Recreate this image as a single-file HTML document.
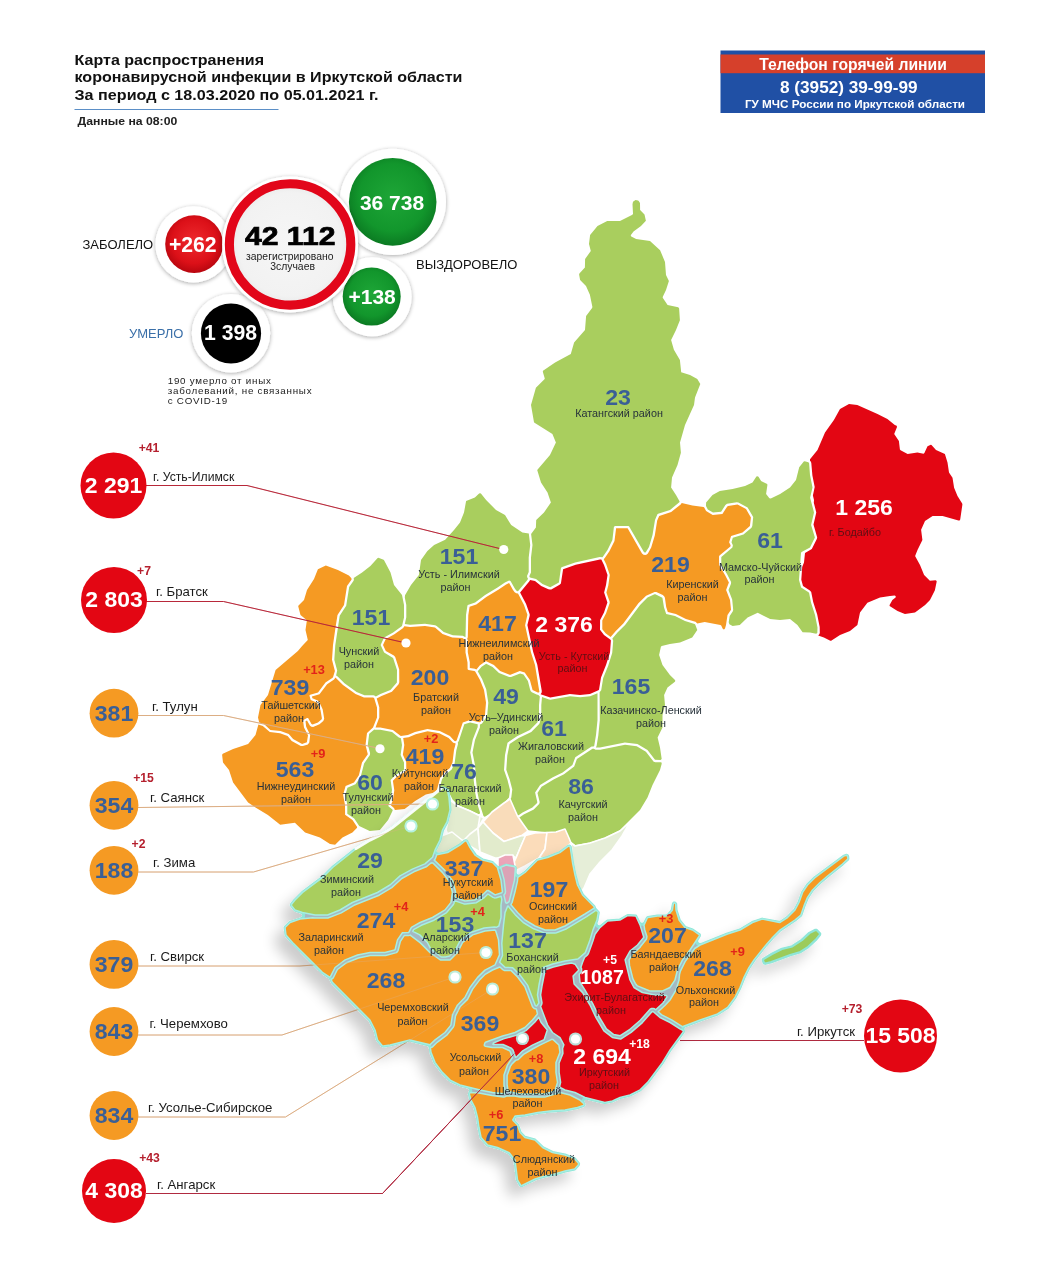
<!DOCTYPE html><html lang="ru"><head><meta charset="utf-8"><title>Карта распространения коронавирусной инфекции в Иркутской области</title>
<style>html,body{margin:0;padding:0;background:#fff}body{width:1050px;height:1280px;overflow:hidden;position:relative;font-family:"Liberation Sans", "DejaVu Sans", sans-serif}svg{position:absolute;left:0;top:0;display:block}svg text{font-family:"Liberation Sans", "DejaVu Sans", sans-serif}</style></head><body>
<svg width="1050" height="1280" viewBox="0 0 1050 1280">
<defs>
<filter id="sh" x="-20%" y="-20%" width="140%" height="140%"><feGaussianBlur in="SourceAlpha" stdDeviation="7"/><feOffset dx="-9" dy="10" result="b"/><feComponentTransfer><feFuncA type="linear" slope="0.2"/></feComponentTransfer><feMerge><feMergeNode/><feMergeNode in="SourceGraphic"/></feMerge></filter>
<filter id="csh" x="-30%" y="-30%" width="160%" height="160%"><feGaussianBlur in="SourceAlpha" stdDeviation="2"/><feOffset dx="0" dy="1"/><feComponentTransfer><feFuncA type="linear" slope="0.35"/></feComponentTransfer><feMerge><feMergeNode/><feMergeNode in="SourceGraphic"/></feMerge></filter>
<filter id="blur8"><feGaussianBlur stdDeviation="8"/></filter>
<filter id="blur1"><feGaussianBlur stdDeviation="0.7"/></filter>
<radialGradient id="gred" cx="50%" cy="45%" r="55%"><stop offset="0" stop-color="#ee2a2e"/><stop offset="0.7" stop-color="#dc1018"/><stop offset="1" stop-color="#b8060f"/></radialGradient>
<radialGradient id="ggreen" cx="50%" cy="45%" r="55%"><stop offset="0" stop-color="#1ea637"/><stop offset="0.7" stop-color="#12962c"/><stop offset="1" stop-color="#0b7a22"/></radialGradient>
<radialGradient id="ggray" cx="50%" cy="50%" r="50%"><stop offset="0" stop-color="#f6f6f6"/><stop offset="0.85" stop-color="#f2f2f2"/><stop offset="1" stop-color="#e9e9e9"/></radialGradient>
</defs>
<path fill="#a9ce5e" d="M529.5,575.8 529.4,576.8 530,577.5 536,579 542.5,584 550.2,587.3 558.9,582.4 560.9,568.3 561.5,567.3 575.1,562.5 599.7,557.1 602.5,557.2 607.5,550.1 612.4,540.1 613.9,527 614.9,526 628.2,526 629,526.3 643.9,552 644.7,552.6 645.6,552.5 649,546.9 652.5,534.9 655,520 657.4,514.3 658.1,513.8 670,510 679.6,502.1 679.5,501.2 676,495 671.1,487.5 672,477.6 677.5,465.1 680.9,452.7 680,442.4 685,425.1 694,405.1 695,397.5 700.3,383.9 697.3,378.9 690,375 681.2,372.3 679.9,360 673.9,349.8 671.1,340 676,329.9 679.9,320.2 679.1,308.3 678.2,307.3 667.6,304.9 662.7,297.7 662.8,296.8 666,289.9 668.9,281 666,274.9 665,261.9 660.1,250.2 650,241.1 636.1,239 631.3,236.6 630.8,236 630.9,234.9 633.5,231.6 641,226 645.9,220.8 644.5,214.5 640.1,210 640,203.1 638.7,200.9 638,200.4 635.5,200.1 633,201.8 632.5,204.2 633,213.8 632.4,214.8 620,221 607.2,221.1 597.5,226 590.1,234.9 589,244 590.8,251 585.1,259 584.9,267.6 579.4,273.5 579.1,274.4 580.1,280 586,286 589.9,294.8 592.4,307 592.1,308 586.1,316 585,329.9 574.1,342.5 570.8,354 555.1,362.5 543,370.7 542.8,371.8 544.7,378.2 544.7,379.1 535.9,387.8 531,404.9 534,422.2 534.5,422.8 552.4,433.9 555.9,442.6 550,455 537.2,470.1 541,482.4 547.5,492.5 550.9,502.4 544,512.5 536.2,519.9 535.9,527.5 531.1,534 532.5,545.1 531,557.6 531,572.4Z"/>
<path fill="#f59a23" d="M258,717.4 259.2,722.4 264,724.1 270.4,729.9 280.5,731 288.8,733.9 293.1,739.1 302.1,743.9 306.9,742.2 308,735.3 304,727.5 303.1,721 303.4,720 307,718 308.1,718.1 311.5,724.1 312.6,724.6 317.9,722.5 321.7,719.2 321.9,718.3 320.5,710.1 317.2,703 316.6,702.4 310.7,699.9 309.4,695.6 310.2,694.7 318,692.4 325.5,682.6 332.6,677.8 333.1,677.1 334.9,670.9 332,659.7 333,644.9 335.5,627.5 337.5,615 344,604.9 347,586.1 351.6,579.4 351.4,578.3 348.9,575.4 337.9,570 325.8,565.6 317.9,569.3 314,579 307,590.1 304,599.9 298.5,605.5 298.2,606.2 300.5,614.9 306.9,620.3 305.5,630 307.8,640.1 302.1,645.9 297.9,651.1 275.6,670 268,694.9 260.5,705.1Z"/>
<path fill="#f59a23" d="M222.8,753.7 222.1,754.8 223,762.4 229,770 233.1,782.6 248.1,802.5 255.5,807.5 267.9,814.9 280.2,824.8 294.9,822.7 305.1,832.5 319.9,837.5 330,844 335.1,844.8 342.5,837.6 352.4,832.5 357.1,827.7 357,826.7 352.5,820 345.1,814.8 345,805 343.1,794.8 345.6,786.1 354,782.5 358.9,775.2 362,762.5 367.8,754.2 365.5,745 367,732.9 373,727.4 377,717.4 377,707.6 374.2,698.3 373.2,697.5 364,697.5 355.5,694 343,685 335.4,677.6 334.1,679.5 327.1,684.2 319.5,694.2 311.9,696.6 312.4,698.3 317.7,700.4 319.2,701.8 322.7,709.4 324.2,718.8 323.3,720.9 319.5,724.3 313.1,726.9 311.4,726.8 310,725.8 307,720.6 305.5,721.3 306.2,726.8 310.2,734.9 309.3,742.4 307.9,744.4 302.9,746.1 300.8,745.9 291.7,740.9 287.6,736 280,733.3 269.8,732.1 262.8,726.1 258.4,724.6 255.5,735 248.1,743.9 233.1,749Z"/>
<path fill="#a9ce5e" d="M380.4,694.1 390.4,690 396.9,682.4 397,670.1 393.1,657.9 384.1,652.5 380.6,644.9 384.1,637.5 393.1,632.5 402,625.9 404,617.5 404,605.1 402,595.1 394,585 390.5,572.5 384.2,560.4 383.6,559.8 378.4,557.8 377.4,558.2 370.4,566.1 362.1,572.5 353.7,577.9 353.9,579.4 353.6,580.7 349.2,586.9 346.2,605.7 339.7,615.8 335.3,645.2 334.3,659.8 337.2,670.6 336.1,675.4 337.4,676.2 344.5,683.2 356.6,692 364.5,695.2 373.5,695.2 374.8,695.7 375.8,696.5Z"/>
<path fill="#f59a23" d="M380.3,727.5 392.9,730 400.8,735.9 407.9,735 415,732 427.4,729 439.8,731 449.9,736 454.5,740.9 455.5,741.2 456.6,740.4 462.8,722.5 470,720.1 479.2,722.3 480.4,721.9 485,714.7 486,702.5 484,690.1 480,680.1 475.2,671.4 474.4,670.9 468.5,670.1 467.6,669.3 467.5,662.5 465.5,652.5 465.5,640.7 465.1,639.8 462.3,638 452.3,637.4 442.5,634 435,627.5 425,626 410,627 404.3,626.3 403.2,628 394.4,634.3 385.8,639.1 383,645 385.8,650.9 393.9,655.4 395.2,656.9 399.2,669.6 399.3,682.3 398.6,684.2 391.9,691.8 381.5,696.1 376.7,698.6 379.3,707.2 379.3,717.4 375.5,727.5Z"/>
<path fill="#a9ce5e" d="M369.7,830.9 379.9,829.9 388.1,819.9 392.7,810.5 392.4,809.5 388.7,806.5 388.3,805.7 390.5,799.9 392,790.1 390.6,780 395.5,775 403.5,770.3 404,769.4 404,762.5 400.6,755 402,745.1 400.9,738.2 398.8,737.6 392,732.1 380.3,729.8 375.3,729.8 374.3,729.4 369.2,733.7 367.8,744.8 370.1,753 369.9,755.1 364.1,763.5 360.8,776.4 355.5,784.2 347.4,787.7 345.4,795.1 347.3,804.7 347.3,813.8 354.2,818.5 359.2,826.1Z"/>
<path fill="#f59a23" d="M404.6,809 415.1,800.9 425.8,794.6 435.7,792.2 436.5,791.6 440.1,778 445,772 449.9,768 452.5,762.4 454,750.1 455.7,743.5 453.2,742.8 448.6,737.9 439.3,733.2 427.6,731.3 415.7,734.2 408.6,737.2 403.2,738 404.3,745 402.9,754.7 406.2,761.9 406.3,769.8 405,772 396.9,776.8 392.9,780.8 394.3,790.3 392.8,800.4 390.8,805.3 394,808 394.9,809.9Z"/>
<path fill="#a9ce5e" d="M465.5,637.2 466,614.9 467.4,605.8 467.8,605 475.1,602.5 485.1,594.9 497.5,587.5 504.9,582.6 509.1,580.5 510.5,581 515.1,589.1 516.8,591.1 518,591.2 527.4,580.1 528,578.8 527.3,577.6 527,576.1 528.7,572 528.7,557.4 530.2,545 528.8,533.6 522.4,532.4 511.2,525.1 505,515.1 496,510 486.1,500.1 480.9,493.6 480,493.2 479.1,493.4 474.9,497.5 466.1,501.1 464,512.5 460,522.4 454,530 445.2,539.8 434.1,545 427.4,551.1 421,560.1 418.9,575.1 411,585.1 405,595.3 404.8,597.5 406.3,604.9 406.3,617.3 404.8,624 410.1,624.7 425,623.7 435.2,625.2 436.7,625.9 443.7,632 452.9,635.2 462.8,635.7Z"/>
<path fill="#f59a23" d="M479.9,665.2 485.3,661.4 486.3,661.2 493.9,665 500.1,671 509.6,674.8 510.5,674.8 519.8,671.1 524.7,672.4 529.9,679.9 532.6,689.9 537.8,692.6 538.8,692.6 539.4,691.9 535,665.1 531,652.4 525.1,625.3 527.4,614.8 524,605 518,593.5 516.2,593.3 514.7,592.3 513,590.1 509.1,583 506.1,584.5 498.7,589.5 486.3,596.9 476.3,604.4 469.6,606.7 468.3,615.3 467.8,637.2 467.2,638.8 467.8,640.6 467.8,652.3 469.8,662.2 469.8,668 474.9,668.7 476.4,669.4Z"/>
<path fill="#e30613" d="M540.6,694.2 550.2,697.5 569.9,694 580,695 589.9,694 598.4,690.3 599,689.7 601,677.5 606,665 610,652.5 610.9,640.6 610.5,639.7 604,634.9 600,629.7 600.1,619.9 604,612.5 607.4,602.6 604.1,592.5 606,584.9 607.5,574.9 604,565.1 601.3,559.6 600,559.4 575.7,564.7 563.1,569.2 560.9,583.4 559.6,584.8 551.3,589.4 549.8,589.6 548.4,589.3 541.2,585.9 535,581.1 530.1,579.9 529.2,581.5 520.1,592.5 526.1,604 529.7,614.3 529.7,615.8 527.4,625.1 533.2,651.9 537.3,664.7 541.8,691 541.6,692.7Z"/>
<path fill="#a9ce5e" d="M472.5,752.4 475,765.1 476,780 477.5,792.5 480,805.1 483.5,815.9 484.1,816.5 484.9,816.7 499.9,807.5 509,797.4 510,789.9 507.5,780.1 504,769.9 505,755.1 507.5,742.7 517.4,736.1 529.9,730 537.5,722.2 539,715 539,705.1 539.8,696.4 538.4,695 536.6,694.6 531.8,692.2 530.8,691.3 530.2,690.1 527.9,680.9 523.5,674.5 520.1,673.4 511.1,677 509.1,677.1 499,673 492.6,666.9 486.2,663.7 481.6,666.7 477.7,671.2 482.1,679.1 486.2,689.3 488.3,702.8 487.2,715.7 482.3,723.2 481.3,724.1 480,724.6 479.9,727.6 475,740Z"/>
<path fill="#a9ce5e" d="M438.4,792.9 457.5,805 469.9,810 478.2,814.1 479.2,814.1 479.9,813.5 480,812.5 477.8,805.5 475.2,792.8 473.7,780.2 472.7,765.4 470.2,752.6 472.8,739.4 477.7,727.1 477.7,724.3 470.1,722.4 464.3,724.3 458.8,741.1 457.8,742.6 458,743.9 456.3,750.5 454.6,763.5 451.7,769.4 446.6,773.7 442.1,779.1Z"/>
<path fill="#a9ce5e" d="M516.8,814.6 517.6,815.3 518.6,815.2 522.6,812.4 532.4,807.5 537.1,802.9 537.3,801.9 535.1,792.5 540.1,785 552.4,777.5 562.6,772.4 572.4,765.1 575.3,757.3 591.6,746.6 593.4,746.4 594.2,745.9 596,735 597.5,720.1 597.5,693.2 590.1,696.3 580.1,697.3 570.1,696.3 550.4,699.8 549,699.6 542,697.1 541.3,705.1 541.3,715.3 539.8,722.7 539.2,724 531.3,731.9 518.7,738 509.6,743.9 507.3,755.4 506.3,769.7 509.7,779.4 512.3,789.6 511.3,797.6 510,799.8Z"/>
<path fill="#a9ce5e" d="M599.9,747.5 624.9,742.5 637.4,744 647.5,750 655,759.8 660.6,760 661.7,759.1 660,747.6 657.6,737.6 662.5,727.4 662.5,715 665,705 664.1,694.9 667.5,687.6 674.9,681.8 675.3,680.9 675,680 669.9,674.9 662.5,664.9 659.1,655 660.9,646.7 661.7,645.9 669.9,644 680,642.5 692.2,637.6 697.3,629.9 695.2,624.6 694.6,623.9 685,621 675,616 666.2,613.9 664,607.5 662.4,597.7 655.4,594.2 654.5,594.3 647.5,597.5 640.1,604.9 625.1,624.9 617.5,632.5 612.4,638.4 613.2,640.7 612.2,653.1 608.2,665.7 603.2,678.1 601.2,690.2 599.6,692.2 599.8,720.2 598.3,735.4 596.6,745.9 595.8,747.5Z"/>
<path fill="#a9ce5e" d="M524.7,829.4 525.7,830.1 549.9,832.5 562.3,835 575.3,844.9 590,842.5 605.1,837.5 620,829.9 640,810 647.5,797.5 652.5,784.9 660,770 661.7,763.7 661.6,762.8 661.1,762.2 655.4,762.3 653.7,761.7 645.9,751.7 636.7,746.2 625.1,744.8 600.3,749.8 595.6,749.8 593.8,748.7 592.5,748.7 576.9,759 574.2,766.5 564,774.3 553.6,779.5 541.6,786.7 537.5,792.9 539.6,801.7 539.6,802.9 538.9,804.3 533.8,809.4 523.7,814.5 519.7,817.2 518.4,817.6Z"/>
<path fill="#f59a23" d="M704.7,622.1 720.4,624.9 721.2,625.5 722.9,629.1 724,629.4 725,628.6 726,624.9 727.5,615.1 731,609.8 730,599.9 726.1,590.1 728.9,582.4 725,575 719.1,565.1 719,556.4 719.5,555.6 730.4,546.4 730.6,545.3 729.1,542.2 731.1,536.1 742.5,532.5 749.9,526 750.9,517.5 746,509.1 737.5,504.6 728.1,505.9 727.3,506.4 722.4,513.9 712.7,515 706.1,511 704.2,507.5 703.6,507 692.4,505.5 681.7,502.9 680.7,504.4 671.2,512 659.2,515.9 657.2,520.6 654.8,535.4 651.2,547.6 647.9,553.6 646.8,554.5 645.4,555 643.5,554.7 642,553.4 627.6,528.3 616.1,528.3 614.5,541 609.4,551.2 604.8,558.1 603.7,559.2 606.2,564.3 609.8,575.1 608.3,585.4 606.4,592.4 609.6,601.4 609.7,603.1 606.1,613.3 602.3,620.6 602.3,629.2 605.6,633.3 610.6,636.9 615.8,630.9 623.3,623.4 638.4,603.3 646.1,595.7 654.6,591.9 656.3,592.1 662.8,595.1 664.3,596.4 664.9,597.7 666.2,607 667.8,612 675.9,613.9 685.9,618.9 695.5,621.8 697.3,623.5Z"/>
<path fill="#a9ce5e" d="M728.7,622.3 729.4,624.2 732.6,625.9 739.8,625 747.6,617.5 757.7,612.7 770.1,619 780,620 790,619.1 797.4,625 802.6,632.3 810,632.5 816.2,633.7 817.3,633 817.5,627.5 815,615.1 811,602.6 809.1,592.9 808.5,592.2 801.1,587.4 799,579.9 801,552.8 801.6,552.1 810,547.5 814.9,537.5 811.1,525.1 814,512.4 810.1,497.7 812.5,487.4 810,475.1 809.1,463.3 808.4,462.3 804.7,461.2 803.8,461.4 799.2,467.3 796,480 790,487.4 780.1,493.9 770.8,498.6 769.4,498.3 766.1,494 767.4,485 767.2,484.1 761.1,481 758.5,476.7 757.4,476.2 756.4,476.6 752.5,482.5 745,486 732.6,489 719.8,491.1 712.5,495 706.1,502.5 706,506 707.8,509.4 713,512.6 721.1,511.8 725.4,505.1 727,503.8 736.7,502.3 738.4,502.4 747.6,507.4 753.2,517.1 752.3,525.9 751.5,527.7 743.5,534.5 732.8,537.8 731.5,542.2 732.9,545.2 732.4,547.6 721.3,557.1 721.3,564.4 727,573.9 731.1,582.1 731,583.7 728.5,590 732.2,599.5 733.2,609.9 732.7,611.5 729.7,615.9Z"/>
<path fill="#e30613" d="M823.9,637.5 830.3,640.7 831.2,640.8 840,635 850,631 857.4,625 860,612.6 867.4,602.7 880,597.5 890,596 894.5,595.5 895.2,595.7 895.8,596.4 895.6,597.4 892.4,600.1 889.6,605 889.6,606.1 897.5,611 904.9,613.9 915,612.4 925.1,604.9 930,599.9 934.9,590.2 936.7,581.5 936.4,580.7 935.6,580.3 929.9,580.8 924.1,575.1 920,565.1 915.2,556.3 915.3,555.4 917.5,550.1 922.4,540.1 921.1,529.8 925,521 932.6,516 942.6,516 958.5,520.6 959.6,520.5 960.2,519.6 962.4,504.5 962.2,503.6 957.5,496 954.1,487.7 952.5,477.7 949,472.4 947.5,462.4 944.9,454 936,450 931.5,445.1 930.8,444.8 927.5,446.2 924.4,453.1 923.5,453.8 917.4,452.5 907.6,453.9 900.6,450.3 899.9,449.4 898.9,441 894.2,434 897,427.1 896.7,425.8 894.8,424.9 887.4,418.9 877.5,414 857.3,405 849,404.1 840,409.1 833.9,420.1 825,432.5 817.5,449.9 810,459.3 810,460.7 810.9,461.7 811.3,463 812.4,475.5 814.7,487 812.9,495.4 814,499.9 813.8,502.7 816.3,512.4 813.5,524.5 817.2,537.6 816.8,539 811.8,548.9 805,552.9 804,562.4 802.2,567.1 801.3,579.8 803,586 809.9,590.4 811.2,592 813.2,602 817.2,614.5 819.7,627 819.8,633 819.3,634.3 818.2,635.4Z"/>
<g filter="url(#blur1)" stroke="#fff" stroke-width="1.6" stroke-linejoin="round">
<polygon fill="#e6eed6" points="448,792 452,800 458,806 480,816 484,818 478,828 480,852 470,846 462,842 450,846 446,830 450,812"/>
<polygon fill="#e3ecd0" points="450,800 458,806 470,811 480,816 478,828 470,834 462,842 452,846 446,830 450,812"/>
<polygon fill="#e3ecd0" points="436,838 452,832 462,840 466,842 458,848 447,853 436,856"/>
<polygon fill="#f9dcba" points="483,822 492,812 504,803 510,799 517.5,816 523,824 528,831 522,835.5 504,841.5 493,833"/>
<polygon fill="#e2ebcc" points="478,828 483,822 493,833 504,841.5 522,835.5 525.5,836 521,846 516,858 513,856 498,858 495,858 480,852"/>
<polygon fill="#fbdcba" points="525.5,835.5 535,833 547,832.5 545,849 539,858 525,866 516,870.5 513,864.5 516,858 521,846"/>
<polygon fill="#fbdcba" points="547,832.5 556,832 565,829 569,838 571,843 560,852 547.5,857.5 539,858 545,849"/>
<polygon fill="#eba4b8" points="498,858 505,855 513,855 516,870.5 514,882 510,892 505,888 501,876.5 498,866"/>
<polygon fill="#e6eed8" points="571,843 575,846 590,843 605,838 620,831 630,822 622,836 612,850 600,862 590,874 584,888 580,893 577,884 575,872 572.5,860"/>
</g>
<polyline fill="none" stroke="#b8283a" stroke-width="1" points="146,485.5 247,485.5 503.5,549.5"/>
<polyline fill="none" stroke="#b8283a" stroke-width="1" points="146,601.5 223.5,601.5 406,643"/>
<polyline fill="none" stroke="#dcae84" stroke-width="1" points="138,715.5 223.5,715.5 380,748.5"/>
<polyline fill="none" stroke="#dcae84" stroke-width="1" points="138,807.5 432.5,804"/>
<polyline fill="none" stroke="#dcae84" stroke-width="1" points="138,872 253.5,872 411,826"/>
<polyline fill="none" stroke="#dcae84" stroke-width="1" points="138,966 300,966 486,952.5"/>
<polyline fill="none" stroke="#dcae84" stroke-width="1" points="138,1035 282,1035 455,977"/>
<polyline fill="none" stroke="#dcae84" stroke-width="1" points="138,1117 285.5,1117 492.5,989"/>
<polyline fill="none" stroke="#b02a40" stroke-width="1" points="146,1193.5 382.5,1193.5 515,1053"/>
<polyline fill="none" stroke="#b02a40" stroke-width="1" points="680,1040.5 864,1040.5"/>
<g filter="url(#sh)" stroke="#8fe6d8" stroke-linejoin="round">
<path fill="#a6b8c2" stroke-width="3" d="M285.1,927.9 286.1,935 292.5,942.5 322.4,972.4 329.8,977.4 332.6,982.6 369.8,1019.9 375,1030 377.5,1040 382.2,1045.6 383.1,1045.9 390,1045 409.8,1040.1 428.3,1044.7 429.5,1045.5 430.2,1046.7 431,1052.6 435,1062.5 442.6,1072.6 450.1,1080.1 459.9,1085 468.5,1087.1 469.9,1088.1 470.6,1089.3 470.8,1090.7 469.4,1094 471,1100.1 475.1,1107.9 477.5,1117.5 479,1127.5 481,1137.5 487.6,1145 497.5,1147.5 508.2,1152.2 509.5,1153.2 514.9,1160.1 517.5,1179.9 520.5,1185.1 521.6,1185.6 535.2,1178.9 545,1176 555,1174 565,1171 574.7,1169 578.4,1164.7 578.6,1163.8 574.7,1158.9 564.9,1155 552.4,1152.4 542.7,1147.6 534.9,1140 524.8,1137.2 520.2,1132.6 517.5,1125.1 513.9,1121.2 513.5,1118.9 514.5,1116.9 516.4,1115.9 525,1115 537.5,1112.5 550,1111 565,1110 577.5,1107.5 583.7,1105.3 584,1104.3 582.9,1102.2 583,1100.5 584.1,1098.8 585.9,1098 604.9,1102.5 612.3,1101 620,1097.5 630.1,1095 640,1090 647.5,1082.5 662.5,1062.5 670,1050 683.2,1032.1 683.4,1031.3 682.8,1028.5 683.9,1026.4 700,1020 717.4,1014 727.6,1007.4 735,997.4 740,987.5 744,977.5 748.9,967.7 754.1,959.9 766,944.9 772.5,937.5 779.8,930.2 795,920 800.9,915.1 804,906 807.4,897.8 812.5,890 820.1,882.4 827.5,876 842.5,864 847.6,859.4 847.9,858.6 847.7,856.4 847.3,855.6 846.6,855.3 843.9,856.1 814.9,877.6 807.6,884.9 802.6,892.4 799,902.5 794.9,910.1 787.5,917.5 780.9,921.9 778.9,922.3 762.2,919.1 752.4,922.5 740,930 727.5,934 701.4,944.5 699.4,944.6 697.4,943.4 696.6,941.2 697,939.6 699.4,935.8 699.4,934.7 692.5,930 685.1,927.4 679.4,920.5 676,910 675.7,903.8 674.7,903 673.9,903.1 673.4,903.7 672.2,910.2 667.8,915.4 666.2,916 657.4,916 648,917.4 647.2,918.1 644.8,923 643.2,924.2 641.1,924.3 639.4,923.2 635.8,916.1 627.8,915.5 619.8,920 607.6,921 600.5,926.7 598.8,926.8 597.3,926.1 596.2,924.8 595.9,923.1 597,919.9 598.3,912.5 594.9,908.8 594,906.5 582.7,895.1 577.7,885.3 575,875 572.5,862.6 570.3,847 569.4,846 568.4,846.2 559.6,852.7 547.5,857.5 537.5,860.1 525,872.5 520.2,875.7 518.9,876.1 517,875.7 515.4,874 515.1,872.6 515.4,867.9 514.7,866.9 506.1,865.1 500.4,867.6 498.3,867.6 497,867 492.4,862.5 482.7,860 475.6,855.4 470.1,847.6 466.7,841.3 465.9,840.7 464.9,840.9 459.8,845.1 447.7,852.4 438.9,854.2 436.6,853.6 435.2,851.8 435.2,849.8 440,840.1 442.6,829.9 447,822 450,810 449,797.5 447.6,790.4 446.9,789.7 442.5,787.7 392.5,827.5 380,835 370,840 357.4,847.6 332.5,867.5 322.5,877.5 302.5,892.5 295,900 291.6,904.3 291.3,905.1 295.1,910 301.7,912.3 302.8,913 303.7,914.8 303.4,917.1 301.6,918.7 290,922.5 285.4,927.1Z"/>
<path fill="#9ccb5a" stroke-width="2.4" d="M762.9,960.4 764,963.2 765.3,963.7 771.4,962.1 790.3,955.2 800.5,952.1 808.3,946.9 815.8,939.9 820,934.7 820.1,933.5 816.7,930 815.4,929.9 809.3,933 801.8,940 792.2,946.3 781.9,948.9 771.9,953.9 763.4,959 762.9,959.6Z"/>
</g>
<g stroke="#a6eee2" stroke-width="1.5" stroke-linejoin="round">
<path fill="#a9ce5e" d="M291.6,904.3 291.5,905.7 295,910 302.4,912.5 315,915 327.6,915 340,910 352.5,902.5 377.5,892.5 390,885 400.1,875.9 412.4,869.1 425,863.9 432.6,857.3 435.1,849.9 440,840 442.5,830 447,821.9 450,809.9 449,797.6 447.4,790.1 443.1,787.8 442,787.9 392.6,827.4 380.1,835 370,840 357.4,847.6 332.6,867.5 322.4,877.6 302.6,892.4 295,900Z"/>
<path fill="#f59a23" d="M285.3,927.2 285.1,928.1 286,935 292.5,942.5 322.4,972.4 328.9,976.7 329.8,976.9 330.6,976.3 335.1,967.5 345.2,959.9 357.6,955 370,952.5 385,952.5 394.7,950 395.2,949.3 397.5,939.9 402.4,932.8 408.8,932.4 411.4,927.3 420.1,922.5 432.5,917.5 445.1,909.9 451,902.4 452.4,892.3 449.9,882.3 442.4,872.4 433.1,863.1 432,862.8 430.3,863.5 426.2,866.8 413.8,871.8 401.8,878.5 391.7,887.6 379.1,895.2 353.9,905.3 341.2,912.9 327.9,918 315.1,918.1 312.8,917.7 300,919 290.1,922.5Z"/>
<path fill="#f59a23" d="M332.4,982.3 369.9,1020 375,1030 377.5,1039.9 382.3,1045.7 383.2,1045.9 390.1,1045 409.9,1040 430,1044.8 435.1,1039.9 445,1032.5 450.9,1025.1 452.5,1014.9 457.4,1005.2 464.9,997.5 470,987.5 477.4,977.6 485,970.1 495.1,964.8 499.5,954.9 498.5,939.9 495.7,930.8 494.9,930.1 485,931 472.7,934.9 462.6,942.5 457.5,952.4 450.3,959.7 449.5,960 440.4,960 430.1,952.6 420.1,942.6 410.2,935.1 408.5,935.6 404.2,935.6 400.4,941.3 398.1,950.3 397.4,951.7 396.3,952.6 385.6,955.5 370.3,955.6 358.4,958 346.5,962.7 337.4,969.5 333.2,977.9 331.1,979.7Z"/>
<path fill="#f59a23" d="M455,897 455.7,897.8 465,901 474.7,900 482.5,895 487.3,890.4 488.2,890.5 495.1,894.9 501.7,892.8 502.4,891.9 501,880 497.4,867.5 492.5,862.5 482.6,860 475.1,855.1 470,847.6 466.6,841.2 465.9,840.7 465,840.9 459.9,845.1 447.6,852.5 436.7,854.7 435.3,858.7 434.2,860.1 444.8,870.4 452.7,880.9 455.6,892.1Z"/>
<path fill="#dba3b6" d="M505.6,902.3 506.1,903 507,903.2 509.1,901.6 514.5,880.1 515.4,867.9 514.6,866.8 506.2,865.1 500.7,867.4 504.1,879.6 505.5,891.7 505.1,893.5 503.9,895Z"/>
<path fill="#a9ce5e" d="M419.8,934.9 427.4,942.5 430.6,948.7 440.5,956.5 441.3,956.9 445.5,956.9 449.5,956.1 455,950.7 460.2,940.5 470.7,932.5 484.2,928 494.4,927 496.3,927.3 498.9,926 501,917.5 501,905 501.8,899.6 501.1,896.2 496.3,897.8 494.5,897.9 493,897.4 487.9,894 484.3,897.5 476.4,902.7 465.6,904.1 463.9,903.9 454.4,900.6 454,903.2 453.4,904.5 446.6,912.6 434,920.2 421.3,925.3 413.5,929.7 412.8,931.4Z"/>
<path fill="#f59a23" d="M510.9,904.7 517.5,912.5 525,920 535,926 545.2,930 555,930 565,926 585,914 593.8,908.3 594.3,907.3 594,906.5 582.6,895 577.5,885 575,875 572.5,862.5 570.2,846.9 569.1,846 568.4,846.2 559.8,852.6 547.6,857.5 537.5,860 525,872.5 517.8,877.3 517.5,880.8 515,891.8 512.1,902.5Z"/>
<path fill="#a9ce5e" d="M499.6,962.3 505,967.4 512.7,967.7 520.1,975.1 527.5,985.1 535.2,1005.3 536,1006 536.9,1005.9 538.9,1002.9 537.5,994.8 539,985 542.5,967.8 552.6,964 564.9,961 577.9,959 585.4,952.6 590,940 593,929.9 597,920 598.3,912.3 596.2,910.2 586.6,916.6 566.6,928.7 556.4,932.8 554.9,933.1 545,933.1 533.7,928.8 523.3,922.5 515.2,914.6 508.1,906.1 507.6,906.2 505,912.6 503.5,925 501.8,943.2 502.5,955.5Z"/>
<path fill="#f59a23" d="M431,1052.4 435.1,1062.6 442.4,1072.4 450.2,1080.1 460,1085 480,1090 492.5,1092.5 503.7,1093.8 504.6,1093.6 505,1092.8 505,1090.1 504,1085 504,1075.1 507.5,1065.1 512.3,1057.7 510.2,1051.5 509.6,1050.8 502.5,1047.5 492.4,1047.5 485.2,1046.2 484.5,1045.7 484.3,1045 484.9,1043 485.5,1042.3 502.6,1036 515,1032.5 524.9,1027.5 532.5,1020 537.3,1014.3 537.4,1013.5 536.4,1009.1 534.2,1008.6 532.5,1006.8 524.8,986.5 517.6,977 511.2,970.6 504.2,970.4 502.8,969.6 499.9,967 492.5,970 484.7,974.7 479.8,979.6 472.6,989.1 467.5,999.4 460,1006.8 455.5,1015.9 454.1,1025.3 453.4,1027 447.1,1034.8 437.1,1042.3 432.2,1047.1 430.4,1047.9Z"/>
<path fill="#e30613" d="M515.5,1057.3 516.5,1057 522.7,1050.9 532.4,1045.1 544.1,1039.7 547.3,1030 541.1,1022.5 538.8,1017.2 534.7,1022.2 526.4,1030.3 516,1035.4 503.5,1038.9 493.4,1043 493,1044.4 503,1044.5 511.4,1048.3 513,1050.1Z"/>
<path fill="#f59a23" d="M519.9,1094 544.9,1094 554.4,1091.2 555,1090.7 557.5,1082.5 556,1072.5 556,1062.6 560,1052.3 558.9,1045 552.9,1039.4 551.8,1039.3 539.8,1045.2 532.5,1049 523.5,1054.4 518.3,1059.5 515.6,1060.4 511.7,1064.3 510.3,1066.4 507.1,1075.5 507.1,1084.7 508.1,1091.5Z"/>
<path fill="#f59a23" d="M470.5,1092.6 469.6,1093.1 469.4,1094.1 471,1100 475,1107.7 477.5,1117.4 479,1127.5 481.1,1137.5 487.6,1145 497.5,1147.5 509.2,1152.8 515,1160 517.5,1179.9 520.8,1185.4 521.9,1185.5 535.1,1179 544.9,1176 554.9,1174 564.9,1171 574.7,1169.1 578.5,1164.7 578.5,1163.3 574.8,1158.9 565,1155 552.5,1152.5 542.6,1147.5 535,1140 524.9,1137.4 520.1,1132.5 517.5,1125.1 513.1,1120.6 512.8,1119.8 514.7,1116.5 515.5,1116 525.1,1115 537.6,1112.5 550,1111 565.1,1110 577.4,1107.5 583.4,1105.5 584,1104.7 583.8,1103.8 579.9,1100 570,1095 560.1,1092.5 544.8,1097.1 520,1097.1 514.5,1096 506.5,1096 505.1,1096.7 503.6,1096.9 492,1095.6 479,1093Z"/>
<path fill="#e30613" d="M540.5,1006.3 547.6,1025.1 552.5,1032.5 560,1037.6 563.9,1044.8 562.6,1048.5 562.9,1053.4 559.1,1063.1 559.1,1072.3 560.6,1082.4 559.7,1086.1 560.1,1087.4 565,1090 575,1092.5 585,1097.5 604.8,1102.5 612.5,1101 620,1097.5 630,1095 640.1,1089.9 647.6,1082.4 662.5,1062.5 670.1,1049.9 683.4,1031.6 682.8,1030.4 679.9,1028.9 670.1,1022.5 660,1017.5 653.4,1011.8 652.5,1011.5 651.7,1011.9 642.4,1022.6 631.1,1032.4 621.4,1038.7 620.5,1038.9 612.4,1037.4 603.9,1030.9 596,1017.6 590,1005 582.6,992.6 574.1,984 573.1,976.1 578.4,970.6 578.7,969.7 575.1,964.2 571.9,963.1 565.6,964 553.4,967 545.2,969.8 542.1,985.5 540.6,994.9 542,1002.9 541.6,1004.5Z"/>
<path fill="#e30613" d="M580,982.2 584.9,989.9 592.7,1003.5 598.7,1016 606.4,1028.9 613.8,1034.6 620.3,1035.7 629.1,1030 640.3,1020.3 650.1,1009.2 651.6,1008.5 653,1008.4 654.5,1008.8 655.7,1009.7 663,1003 667,996.9 666.8,996 666,995.4 655,995 642.4,992.5 634,987.5 630,980 625.1,959.8 630,951 637.5,945 643.8,937.3 640,924.9 636.2,916.6 635.4,916 627.6,915.5 619.9,920 607.6,921 599.9,927.6 595,934.2 592.9,941 588.4,953.5 587.5,954.9 584.5,957.5 582.5,962.5 580.9,967.2 581.6,968.9 581.6,971 580.9,972.5 579.2,974.2Z"/>
<path fill="#f59a23" d="M629.1,959.8 629.5,965.4 632.9,978.9 635.3,983.4 637.4,985.9 649.2,990.7 650.8,991 662.6,990.9 670,987.5 674.9,980.2 677.5,970 682.4,960.1 690,950 699.3,936 699.5,935 692.5,930 685,927.5 679.2,920.2 676,910 675.7,903.9 675,903.1 674.1,903 673.3,903.9 672.4,910.1 667.5,915.9 657.5,916 648.1,917.4 647.3,917.9 644,925.1 644.7,929.7 646.9,936.5 646.5,939.1 641.3,945.4 639.9,947.5 632.6,954Z"/>
<path fill="#f59a23" d="M682.3,1026.7 700.1,1020 717.5,1014 727.6,1007.4 735,997.5 740,987.5 744,977.4 748.9,967.6 754,959.9 766,945 772.5,937.5 779.9,930.1 794.9,920 800.9,915.1 804,905.9 807.4,897.6 812.5,890 820,882.5 827.5,876 842.5,864 847.5,859.4 847.9,858.5 847.3,855.7 846.4,855.3 843.8,856.1 814.9,877.6 807.5,885 802.6,892.4 799,902.5 795,910 787.5,917.5 780.4,922.2 779.5,922.4 762.2,919.1 752.5,922.5 740,930 727.5,934 700.1,945 694.7,948.5 685.1,961.6 680.4,971.1 679.5,974.6 679,980 675.9,990.2 670,1000 665.1,1005.3 658.1,1011.7 661.7,1014.9 671.6,1019.8Z"/>
</g>
<polyline filter="url(#blur1)" fill="none" stroke="#fff" stroke-width="3.2" stroke-linecap="round" opacity="0.92" points="356,848.5 370,840 380,835 392.5,827.5 405,817.5 417.5,807.5 430,797.5 441,788.5"/>
<g opacity="0.35">
<polyline fill="none" stroke="#b8283a" stroke-width="1" points="146,485.5 247,485.5 503.5,549.5"/>
<polyline fill="none" stroke="#b8283a" stroke-width="1" points="146,601.5 223.5,601.5 406,643"/>
<polyline fill="none" stroke="#dcae84" stroke-width="1" points="138,715.5 223.5,715.5 380,748.5"/>
<polyline fill="none" stroke="#dcae84" stroke-width="1" points="138,807.5 432.5,804"/>
<polyline fill="none" stroke="#dcae84" stroke-width="1" points="138,872 253.5,872 411,826"/>
<polyline fill="none" stroke="#dcae84" stroke-width="1" points="138,966 300,966 486,952.5"/>
<polyline fill="none" stroke="#dcae84" stroke-width="1" points="138,1035 282,1035 455,977"/>
<polyline fill="none" stroke="#dcae84" stroke-width="1" points="138,1117 285.5,1117 492.5,989"/>
<polyline fill="none" stroke="#b02a40" stroke-width="1" points="146,1193.5 382.5,1193.5 515,1053"/>
<polyline fill="none" stroke="#b02a40" stroke-width="1" points="680,1040.5 864,1040.5"/>
</g>
<polyline fill="none" stroke="#b02a40" stroke-width="1" points="146,1193.5 382.5,1193.5 513.5,1054.5"/>
<g filter="url(#blur1)" fill="#b6f5ec" opacity="0.9">
<circle cx="432.5" cy="804" r="6.6"/>
<circle cx="411" cy="826" r="6.6"/>
<circle cx="486" cy="952.5" r="6.6"/>
<circle cx="455" cy="977" r="6.6"/>
<circle cx="492.5" cy="989" r="6.6"/>
<circle cx="522.5" cy="1038.5" r="6.6"/>
<circle cx="575.5" cy="1039" r="6.6"/>
</g>
<circle cx="503.75" cy="549.5" r="4.6" fill="#fff"/>
<circle cx="406" cy="643" r="4.6" fill="#fff"/>
<circle cx="380" cy="748.75" r="4.6" fill="#fff"/>
<circle cx="432.5" cy="804" r="4.6" fill="#fff"/>
<circle cx="411" cy="826" r="4.6" fill="#fff"/>
<circle cx="486" cy="952.5" r="4.6" fill="#fff"/>
<circle cx="455" cy="977" r="4.6" fill="#fff"/>
<circle cx="492.5" cy="989" r="4.6" fill="#fff"/>
<circle cx="522.5" cy="1038.5" r="4.6" fill="#fff"/>
<circle cx="575.5" cy="1039" r="4.6" fill="#fff"/>
<text transform="translate(618,404.5) scale(1.05,1)" font-size="22" fill="#3a5f96" font-weight="bold" text-anchor="middle">23</text>
<text x="619" y="417" font-size="10.8" fill="#27323a" font-weight="normal" text-anchor="middle" >Катангский район</text>
<text transform="translate(459,564) scale(1.05,1)" font-size="22" fill="#3a5f96" font-weight="bold" text-anchor="middle">151</text>
<text x="459" y="578" font-size="10.8" fill="#27323a" font-weight="normal" text-anchor="middle" >Усть - Илимский</text>
<text x="455.5" y="590.5" font-size="10.8" fill="#27323a" font-weight="normal" text-anchor="middle" >район</text>
<text transform="translate(371,625) scale(1.05,1)" font-size="22" fill="#3a5f96" font-weight="bold" text-anchor="middle">151</text>
<text x="359" y="655" font-size="10.8" fill="#27323a" font-weight="normal" text-anchor="middle" >Чунский</text>
<text x="359" y="667.5" font-size="10.8" fill="#27323a" font-weight="normal" text-anchor="middle" >район</text>
<text transform="translate(497.5,630.5) scale(1.05,1)" font-size="22" fill="#3a5f96" font-weight="bold" text-anchor="middle">417</text>
<text x="499" y="647" font-size="10.8" fill="#27323a" font-weight="normal" text-anchor="middle" >Нижнеилимский</text>
<text x="498" y="659.5" font-size="10.8" fill="#27323a" font-weight="normal" text-anchor="middle" >район</text>
<text transform="translate(564,631.5) scale(1.03,1)" font-size="22.3" fill="#fff" font-weight="bold" text-anchor="middle">2 376</text>
<text x="574" y="659.5" font-size="10.8" fill="#5e0f14" font-weight="normal" text-anchor="middle" >Усть - Кутский</text>
<text x="572.5" y="672" font-size="10.8" fill="#5e0f14" font-weight="normal" text-anchor="middle" >район</text>
<text transform="translate(670.5,572) scale(1.05,1)" font-size="22" fill="#3a5f96" font-weight="bold" text-anchor="middle">219</text>
<text x="692.5" y="587.5" font-size="10.8" fill="#27323a" font-weight="normal" text-anchor="middle" >Киренский</text>
<text x="692.5" y="600.5" font-size="10.8" fill="#27323a" font-weight="normal" text-anchor="middle" >район</text>
<text transform="translate(770,548) scale(1.05,1)" font-size="22" fill="#3a5f96" font-weight="bold" text-anchor="middle">61</text>
<text x="760.5" y="570.5" font-size="10.8" fill="#27323a" font-weight="normal" text-anchor="middle" >Мамско-Чуйский</text>
<text x="759.5" y="583" font-size="10.8" fill="#27323a" font-weight="normal" text-anchor="middle" >район</text>
<text transform="translate(864,515) scale(1.03,1)" font-size="22.3" fill="#fff" font-weight="bold" text-anchor="middle">1 256</text>
<text x="855" y="535.5" font-size="10.8" fill="#5e0f14" font-weight="normal" text-anchor="middle" >г. Бодайбо</text>
<text transform="translate(430,684.5) scale(1.05,1)" font-size="22" fill="#3a5f96" font-weight="bold" text-anchor="middle">200</text>
<text x="436" y="700.5" font-size="10.8" fill="#27323a" font-weight="normal" text-anchor="middle" >Братский</text>
<text x="436" y="713.5" font-size="10.8" fill="#27323a" font-weight="normal" text-anchor="middle" >район</text>
<text transform="translate(506,704) scale(1.05,1)" font-size="22" fill="#3a5f96" font-weight="bold" text-anchor="middle">49</text>
<text x="506" y="720.5" font-size="10.8" fill="#27323a" font-weight="normal" text-anchor="middle" >Усть–Удинский</text>
<text x="504" y="733.5" font-size="10.8" fill="#27323a" font-weight="normal" text-anchor="middle" >район</text>
<text transform="translate(554,736) scale(1.05,1)" font-size="22" fill="#3a5f96" font-weight="bold" text-anchor="middle">61</text>
<text x="551" y="750" font-size="10.8" fill="#27323a" font-weight="normal" text-anchor="middle" >Жигаловский</text>
<text x="550" y="763" font-size="10.8" fill="#27323a" font-weight="normal" text-anchor="middle" >район</text>
<text transform="translate(631,694) scale(1.05,1)" font-size="22" fill="#3a5f96" font-weight="bold" text-anchor="middle">165</text>
<text x="651" y="714" font-size="10.8" fill="#27323a" font-weight="normal" text-anchor="middle" >Казачинско-Ленский</text>
<text x="651" y="727" font-size="10.8" fill="#27323a" font-weight="normal" text-anchor="middle" >район</text>
<text transform="translate(290,695) scale(1.05,1)" font-size="22" fill="#3a5f96" font-weight="bold" text-anchor="middle">739</text>
<text x="314" y="674" font-size="12.8" fill="#e2231a" font-weight="bold" text-anchor="middle" >+13</text>
<text x="291" y="709" font-size="10.8" fill="#27323a" font-weight="normal" text-anchor="middle" >Тайшетский</text>
<text x="289" y="722" font-size="10.8" fill="#27323a" font-weight="normal" text-anchor="middle" >район</text>
<text transform="translate(295,777) scale(1.05,1)" font-size="22" fill="#3a5f96" font-weight="bold" text-anchor="middle">563</text>
<text x="318" y="758" font-size="12.8" fill="#e2231a" font-weight="bold" text-anchor="middle" >+9</text>
<text x="296" y="790" font-size="10.8" fill="#27323a" font-weight="normal" text-anchor="middle" >Нижнеудинский</text>
<text x="296" y="803" font-size="10.8" fill="#27323a" font-weight="normal" text-anchor="middle" >район</text>
<text transform="translate(370,790) scale(1.05,1)" font-size="22" fill="#3a5f96" font-weight="bold" text-anchor="middle">60</text>
<text x="368" y="801" font-size="10.8" fill="#27323a" font-weight="normal" text-anchor="middle" >Тулунский</text>
<text x="366" y="814" font-size="10.8" fill="#27323a" font-weight="normal" text-anchor="middle" >район</text>
<text transform="translate(425,763.5) scale(1.05,1)" font-size="22" fill="#3a5f96" font-weight="bold" text-anchor="middle">419</text>
<text x="431" y="743" font-size="12.8" fill="#e2231a" font-weight="bold" text-anchor="middle" >+2</text>
<text x="420" y="776.5" font-size="10.8" fill="#27323a" font-weight="normal" text-anchor="middle" >Куйтунский</text>
<text x="419" y="789.5" font-size="10.8" fill="#27323a" font-weight="normal" text-anchor="middle" >район</text>
<text transform="translate(464,779) scale(1.05,1)" font-size="22" fill="#3a5f96" font-weight="bold" text-anchor="middle">76</text>
<text x="470" y="791.5" font-size="10.8" fill="#27323a" font-weight="normal" text-anchor="middle" >Балаганский</text>
<text x="470" y="804.5" font-size="10.8" fill="#27323a" font-weight="normal" text-anchor="middle" >район</text>
<text transform="translate(581,794) scale(1.05,1)" font-size="22" fill="#3a5f96" font-weight="bold" text-anchor="middle">86</text>
<text x="583" y="808" font-size="10.8" fill="#27323a" font-weight="normal" text-anchor="middle" >Качугский</text>
<text x="583" y="821" font-size="10.8" fill="#27323a" font-weight="normal" text-anchor="middle" >район</text>
<text transform="translate(370,867.5) scale(1.05,1)" font-size="22" fill="#3a5f96" font-weight="bold" text-anchor="middle">29</text>
<text x="347" y="883" font-size="10.8" fill="#27323a" font-weight="normal" text-anchor="middle" >Зиминский</text>
<text x="346" y="896" font-size="10.8" fill="#27323a" font-weight="normal" text-anchor="middle" >район</text>
<text transform="translate(376,927.5) scale(1.05,1)" font-size="22" fill="#3a5f96" font-weight="bold" text-anchor="middle">274</text>
<text x="401" y="910.5" font-size="12.8" fill="#e2231a" font-weight="bold" text-anchor="middle" >+4</text>
<text x="331" y="941" font-size="10.8" fill="#27323a" font-weight="normal" text-anchor="middle" >Заларинский</text>
<text x="329" y="954" font-size="10.8" fill="#27323a" font-weight="normal" text-anchor="middle" >район</text>
<text transform="translate(386,987.5) scale(1.05,1)" font-size="22" fill="#3a5f96" font-weight="bold" text-anchor="middle">268</text>
<text x="413" y="1011" font-size="10.8" fill="#27323a" font-weight="normal" text-anchor="middle" >Черемховский</text>
<text x="412.5" y="1024.5" font-size="10.8" fill="#27323a" font-weight="normal" text-anchor="middle" >район</text>
<text transform="translate(464,876) scale(1.05,1)" font-size="22" fill="#3a5f96" font-weight="bold" text-anchor="middle">337</text>
<text x="468" y="886" font-size="10.8" fill="#27323a" font-weight="normal" text-anchor="middle" >Нукутский</text>
<text x="467.5" y="899" font-size="10.8" fill="#27323a" font-weight="normal" text-anchor="middle" >район</text>
<text transform="translate(455,932) scale(1.05,1)" font-size="22" fill="#3a5f96" font-weight="bold" text-anchor="middle">153</text>
<text x="477.5" y="916" font-size="12.8" fill="#e2231a" font-weight="bold" text-anchor="middle" >+4</text>
<text x="446" y="941" font-size="10.8" fill="#27323a" font-weight="normal" text-anchor="middle" >Аларский</text>
<text x="445" y="954" font-size="10.8" fill="#27323a" font-weight="normal" text-anchor="middle" >район</text>
<text transform="translate(549,897) scale(1.05,1)" font-size="22" fill="#3a5f96" font-weight="bold" text-anchor="middle">197</text>
<text x="553" y="909.5" font-size="10.8" fill="#27323a" font-weight="normal" text-anchor="middle" >Осинский</text>
<text x="553" y="922.5" font-size="10.8" fill="#27323a" font-weight="normal" text-anchor="middle" >район</text>
<text transform="translate(527.5,947.5) scale(1.05,1)" font-size="22" fill="#3a5f96" font-weight="bold" text-anchor="middle">137</text>
<text x="532.5" y="960.5" font-size="10.8" fill="#27323a" font-weight="normal" text-anchor="middle" >Боханский</text>
<text x="532" y="973" font-size="10.8" fill="#27323a" font-weight="normal" text-anchor="middle" >район</text>
<text transform="translate(480,1031) scale(1.05,1)" font-size="22" fill="#3a5f96" font-weight="bold" text-anchor="middle">369</text>
<text x="475.5" y="1061" font-size="10.8" fill="#27323a" font-weight="normal" text-anchor="middle" >Усольский</text>
<text x="474" y="1074.5" font-size="10.8" fill="#27323a" font-weight="normal" text-anchor="middle" >район</text>
<text x="536" y="1063" font-size="12.8" fill="#e2231a" font-weight="bold" text-anchor="middle" >+8</text>
<text transform="translate(531,1084) scale(1.05,1)" font-size="22" fill="#3a5f96" font-weight="bold" text-anchor="middle">380</text>
<text x="528" y="1094.5" font-size="10.8" fill="#27323a" font-weight="normal" text-anchor="middle" >Шелеховский</text>
<text x="527.5" y="1107" font-size="10.8" fill="#27323a" font-weight="normal" text-anchor="middle" >район</text>
<text x="496" y="1119" font-size="12.8" fill="#e2231a" font-weight="bold" text-anchor="middle" >+6</text>
<text transform="translate(502,1141) scale(1.05,1)" font-size="22" fill="#3a5f96" font-weight="bold" text-anchor="middle">751</text>
<text x="544" y="1163" font-size="10.8" fill="#27323a" font-weight="normal" text-anchor="middle" >Слюдянский</text>
<text x="542.5" y="1176" font-size="10.8" fill="#27323a" font-weight="normal" text-anchor="middle" >район</text>
<text x="610" y="964" font-size="12.2" fill="#fff" font-weight="bold" text-anchor="middle" >+5</text>
<text transform="translate(602,984) scale(1,1)" font-size="19.6" fill="#fff" font-weight="bold" text-anchor="middle">1087</text>
<text x="614.5" y="1001" font-size="10.8" fill="#5e0f14" font-weight="normal" text-anchor="middle" >Эхирит-Булагатский</text>
<text x="611" y="1014" font-size="10.8" fill="#5e0f14" font-weight="normal" text-anchor="middle" >район</text>
<text x="666" y="923" font-size="12.8" fill="#e2231a" font-weight="bold" text-anchor="middle" >+3</text>
<text transform="translate(667.5,942.5) scale(1.05,1)" font-size="22" fill="#3a5f96" font-weight="bold" text-anchor="middle">207</text>
<text x="666" y="958" font-size="10.8" fill="#27323a" font-weight="normal" text-anchor="middle" >Баяндаевский</text>
<text x="664" y="971" font-size="10.8" fill="#27323a" font-weight="normal" text-anchor="middle" >район</text>
<text x="737.5" y="956" font-size="12.8" fill="#e2231a" font-weight="bold" text-anchor="middle" >+9</text>
<text transform="translate(712.5,976) scale(1.05,1)" font-size="22" fill="#3a5f96" font-weight="bold" text-anchor="middle">268</text>
<text x="705.5" y="994" font-size="10.8" fill="#27323a" font-weight="normal" text-anchor="middle" >Ольхонский</text>
<text x="704" y="1006" font-size="10.8" fill="#27323a" font-weight="normal" text-anchor="middle" >район</text>
<text x="639.5" y="1047.5" font-size="12.2" fill="#fff" font-weight="bold" text-anchor="middle" >+18</text>
<text transform="translate(602,1064) scale(1.03,1)" font-size="22.3" fill="#fff" font-weight="bold" text-anchor="middle">2 694</text>
<text x="604.5" y="1076" font-size="10.8" fill="#5e0f14" font-weight="normal" text-anchor="middle" >Иркутский</text>
<text x="604" y="1089" font-size="10.8" fill="#5e0f14" font-weight="normal" text-anchor="middle" >район</text>
<circle cx="113.5" cy="485.5" r="33" fill="#e30613"/>
<text transform="translate(113.5,492.8) scale(1.03,1)" font-size="22.3" fill="#fff" font-weight="bold" text-anchor="middle">2 291</text>
<text x="153" y="480.5" font-size="13.2" fill="#1a1a1a" font-weight="normal" text-anchor="start" textLength="81.3" lengthAdjust="spacingAndGlyphs">г. Усть-Илимск</text>
<text x="149" y="452" font-size="12.2" fill="#b5202e" font-weight="bold" text-anchor="middle" >+41</text>
<circle cx="114" cy="600" r="33" fill="#e30613"/>
<text transform="translate(114,607.3) scale(1.03,1)" font-size="22.3" fill="#fff" font-weight="bold" text-anchor="middle">2 803</text>
<text x="156" y="595.7" font-size="13.2" fill="#1a1a1a" font-weight="normal" text-anchor="start" >г. Братск</text>
<text x="144" y="574.5" font-size="12.2" fill="#b5202e" font-weight="bold" text-anchor="middle" >+7</text>
<circle cx="114" cy="713.2" r="24.4" fill="#f59a23"/>
<text transform="translate(114,720.5) scale(1.05,1)" font-size="22" fill="#3a5f96" font-weight="bold" text-anchor="middle">381</text>
<text x="152" y="710.6" font-size="13.2" fill="#1a1a1a" font-weight="normal" text-anchor="start" >г. Тулун</text>
<circle cx="114" cy="805.3" r="24.4" fill="#f59a23"/>
<text transform="translate(114,812.6) scale(1.05,1)" font-size="22" fill="#3a5f96" font-weight="bold" text-anchor="middle">354</text>
<text x="150" y="802.3" font-size="13.2" fill="#1a1a1a" font-weight="normal" text-anchor="start" >г. Саянск</text>
<text x="143.5" y="782" font-size="12.2" fill="#b5202e" font-weight="bold" text-anchor="middle" >+15</text>
<circle cx="114" cy="870.3" r="24.4" fill="#f59a23"/>
<text transform="translate(114,877.6) scale(1.05,1)" font-size="22" fill="#3a5f96" font-weight="bold" text-anchor="middle">188</text>
<text x="153" y="867" font-size="13.2" fill="#1a1a1a" font-weight="normal" text-anchor="start" >г. Зима</text>
<text x="138.5" y="847.5" font-size="12.2" fill="#b5202e" font-weight="bold" text-anchor="middle" >+2</text>
<circle cx="114" cy="964.4" r="24.4" fill="#f59a23"/>
<text transform="translate(114,971.7) scale(1.05,1)" font-size="22" fill="#3a5f96" font-weight="bold" text-anchor="middle">379</text>
<text x="150" y="961" font-size="13.2" fill="#1a1a1a" font-weight="normal" text-anchor="start" >г. Свирск</text>
<circle cx="114" cy="1031.5" r="24.4" fill="#f59a23"/>
<text transform="translate(114,1038.8) scale(1.05,1)" font-size="22" fill="#3a5f96" font-weight="bold" text-anchor="middle">843</text>
<text x="149.5" y="1028" font-size="13.2" fill="#1a1a1a" font-weight="normal" text-anchor="start" >г. Черемхово</text>
<circle cx="114" cy="1115.5" r="24.4" fill="#f59a23"/>
<text transform="translate(114,1122.8) scale(1.05,1)" font-size="22" fill="#3a5f96" font-weight="bold" text-anchor="middle">834</text>
<text x="148" y="1112" font-size="13.2" fill="#1a1a1a" font-weight="normal" text-anchor="start" >г. Усолье-Сибирское</text>
<circle cx="114" cy="1191" r="32" fill="#e30613"/>
<text transform="translate(114,1198.3) scale(1.03,1)" font-size="22.3" fill="#fff" font-weight="bold" text-anchor="middle">4 308</text>
<text x="157" y="1188.7" font-size="13.2" fill="#1a1a1a" font-weight="normal" text-anchor="start" >г. Ангарск</text>
<text x="149.5" y="1162" font-size="12.2" fill="#b5202e" font-weight="bold" text-anchor="middle" >+43</text>
<circle cx="900.5" cy="1036" r="36.5" fill="#e30613"/>
<text transform="translate(900.5,1043.3) scale(1.03,1)" font-size="22.3" fill="#fff" font-weight="bold" text-anchor="middle">15 508</text>
<text x="855" y="1035.5" font-size="13.2" fill="#1a1a1a" font-weight="normal" text-anchor="end" >г. Иркутск</text>
<text x="852" y="1013" font-size="12.2" fill="#b5202e" font-weight="bold" text-anchor="middle" >+73</text>
<text x="74.5" y="64.5" font-size="14.6" fill="#111" font-weight="bold" text-anchor="start" lengthAdjust="spacingAndGlyphs" textLength="189.6">Карта распространения</text>
<text x="74.5" y="82.2" font-size="14.6" fill="#111" font-weight="bold" text-anchor="start" lengthAdjust="spacingAndGlyphs" textLength="388">коронавирусной инфекции в Иркутской области</text>
<text x="74.5" y="100" font-size="14.6" fill="#111" font-weight="bold" text-anchor="start" lengthAdjust="spacingAndGlyphs" textLength="304">За период с 18.03.2020 по 05.01.2021 г.</text>
<rect x="74.5" y="109" width="204" height="1" fill="#5b8fc7"/>
<text x="77.5" y="125" font-size="11.3" fill="#222" font-weight="bold" text-anchor="start" lengthAdjust="spacingAndGlyphs" textLength="99.8">Данные на 08:00</text>
<rect x="720.5" y="50.5" width="264.5" height="62.5" fill="#2050a5"/>
<rect x="720.5" y="54.5" width="264.5" height="18.7" fill="#d6402b"/>
<text x="853" y="70" font-size="15.7" fill="#fff" font-weight="bold" text-anchor="middle" >Телефон горячей линии</text>
<text x="848.75" y="93" font-size="17.2" fill="#fff" font-weight="bold" text-anchor="middle" >8 (3952) 39-99-99</text>
<text x="855" y="108" font-size="11.7" fill="#fff" font-weight="bold" text-anchor="middle" >ГУ МЧС России по Иркутской области</text>
<circle cx="392.8" cy="201.9" r="53.2" fill="#fff" filter="url(#csh)"/>
<circle cx="392.7" cy="201.9" r="43.8" fill="url(#ggreen)"/>
<circle cx="372.2" cy="296.8" r="39.5" fill="#fff" filter="url(#csh)"/>
<circle cx="371.7" cy="296.6" r="29" fill="url(#ggreen)"/>
<circle cx="193.5" cy="244.3" r="38.1" fill="#fff" filter="url(#csh)"/>
<circle cx="194.1" cy="244.1" r="28.9" fill="url(#gred)"/>
<circle cx="231" cy="333.2" r="39.2" fill="#fff" filter="url(#csh)"/>
<circle cx="231" cy="333.5" r="30.1" fill="#000"/>
<circle cx="290.1" cy="244.4" r="68" fill="#fff" filter="url(#csh)"/>
<circle cx="290.1" cy="244.4" r="60.7" fill="url(#ggray)" stroke="#e2061a" stroke-width="9.1"/>
<text x="392" y="210.1" font-size="21" fill="#fff" font-weight="bold" text-anchor="middle" >36 738</text>
<text x="372.1" y="304.1" font-size="21" fill="#fff" font-weight="bold" text-anchor="middle" >+138</text>
<text x="192.8" y="252.3" font-size="21.2" fill="#fff" font-weight="bold" text-anchor="middle" >+262</text>
<text x="230.5" y="340" font-size="21.2" fill="#fff" font-weight="bold" text-anchor="middle" >1 398</text>
<text x="290.2" y="244.9" font-size="25" fill="#000" font-weight="bold" text-anchor="middle" textLength="90.5" lengthAdjust="spacingAndGlyphs" stroke="#000" stroke-width="0.7">42 112</text>
<text x="289.8" y="260.2" font-size="10.4" fill="#222" font-weight="normal" text-anchor="middle" >зарегистрировано</text>
<text x="292.6" y="269.5" font-size="10.4" fill="#222" font-weight="normal" text-anchor="middle" >3случаев</text>
<text x="82.5" y="249" font-size="13" fill="#111" font-weight="normal" text-anchor="start" >ЗАБОЛЕЛО</text>
<text x="416" y="268.5" font-size="13" fill="#111" font-weight="normal" text-anchor="start" >ВЫЗДОРОВЕЛО</text>
<text x="129" y="337.5" font-size="13" fill="#3a6fa8" font-weight="normal" text-anchor="start" >УМЕРЛО</text>
<text x="167.7" y="383.9" font-size="9.8" fill="#222" font-weight="normal" text-anchor="start" letter-spacing="0.75">190 умерло от иных</text>
<text x="167.7" y="394" font-size="9.8" fill="#222" font-weight="normal" text-anchor="start" letter-spacing="0.75">заболеваний, не связанных</text>
<text x="167.7" y="404" font-size="9.8" fill="#222" font-weight="normal" text-anchor="start" letter-spacing="0.75">с COVID-19</text>
</svg></body></html>
